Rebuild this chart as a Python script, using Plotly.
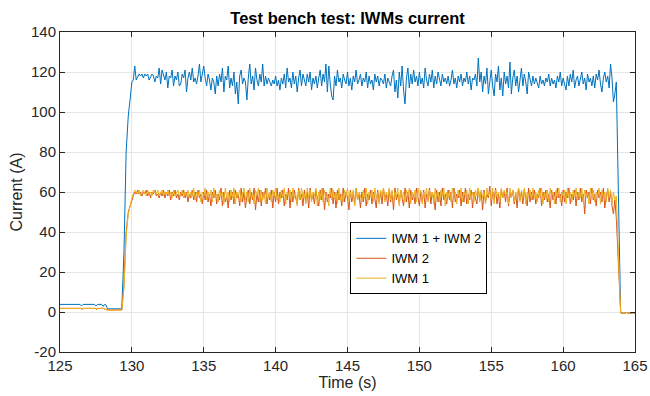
import numpy as np
import plotly.graph_objects as go

# ---------------- data ----------------
# lead-in (before the step) and rise, explicit time/value pairs
blue_head_t = [125.0, 126.4, 126.5, 126.6, 127.4, 127.5, 127.6, 127.9, 128.0, 128.1, 128.2, 128.3, 129.3, 129.45, 129.6, 129.75, 129.9]
blue_head_v = [3.8, 3.8, 3.0, 3.8, 3.8, 3.0, 3.8, 3.8, 2.8, 3.8, 3.5, 1.6, 1.6, 30, 80, 98, 108]

or_head_t = [125.0, 126.5, 126.55, 126.6, 127.5, 127.55, 127.6, 128.0, 128.3, 129.3, 129.45, 129.6, 129.75, 129.9]
iwm2_head_v = [1.8, 1.8, 1.2, 1.8, 1.8, 1.2, 1.8, 1.8, 1.0, 1.0, 14, 40, 50, 54]
iwm1_head_v = [1.8, 1.8, 1.3, 1.8, 1.8, 1.3, 1.8, 1.8, 1.0, 1.0, 12, 38, 49, 55]

# steady part: samples every 0.1 s starting at 130.0 s
steady_t0 = 130.0
steady_dt = 0.1

blue_steady = [
    115, 116, 123, 116, 118, 119, 118, 119, 117, 119,
    118, 119, 116, 118, 119, 118, 115, 118, 117, 122,
    114, 121, 118, 116, 120, 112, 118, 117, 121, 113,
    118, 116, 120, 113, 114, 119, 117, 121, 110, 117,
    120, 116, 122, 115, 117, 114, 118, 124, 115, 119,
    123, 117, 113, 119, 116, 111, 117, 115, 109, 118,
    113, 119, 115, 122, 110, 118, 116, 123, 112, 117,
    113, 120, 109, 115, 104, 118, 121, 114, 117, 115,
    106, 117, 124, 114, 118, 111, 122, 116, 113, 119,
    115, 124, 113, 118, 114, 117, 115, 113, 116, 114,
    118, 113, 116, 111, 117, 114, 119, 112, 122, 115,
    117, 112, 120, 114, 118, 110, 117, 121, 113, 119,
    116, 113, 119, 115, 120, 111, 117, 114, 118, 112,
    117, 121, 113, 119, 115, 124, 110, 123, 114, 108,
    106, 118, 113, 121, 115, 117, 112, 119, 116, 114,
    120, 113, 117, 111, 118, 115, 121, 114, 116, 119,
    113, 117, 115, 120, 112, 118, 114, 116, 111, 119,
    115, 118, 113, 117, 116, 114, 119, 112, 117, 115,
    113, 118, 121, 110, 116, 107, 120, 113, 123, 111,
    104, 117, 122, 112, 119, 114, 121, 115, 118, 113,
    120, 114, 117, 112, 122, 116, 113, 119, 115, 121,
    112, 118, 114, 120, 116, 113, 119, 115, 117, 114,
    118, 113, 116, 121, 114, 117, 112, 118, 115, 119,
    113, 117, 115, 120, 114, 118, 111, 117, 116, 119,
    113, 127, 115, 120, 110, 118, 114, 122, 109, 117,
    121, 113, 108, 119, 115, 123, 111, 117, 108, 120,
    114, 118, 112, 125, 109, 117, 121, 113, 118, 110,
    116, 122, 113, 119, 115, 109, 120, 116, 113, 118,
    114, 117, 115, 112, 118, 114, 116, 113, 117, 115,
    119, 113, 117, 114, 116, 112, 118, 115, 120, 113,
    117, 114, 111, 118, 113, 119, 115, 121, 112, 116,
    118, 113, 116, 120, 114, 117, 111, 119, 115, 117,
    113, 118, 112, 119, 116, 121, 114, 110, 117, 120,
    115, 118, 112, 124, 117, 105, 109, 115,
]

iwm2_steady = [
    56, 58, 60, 59, 61, 59, 60, 58, 60, 59,
    61, 58, 60, 57, 60, 59, 61, 58, 59, 57,
    60, 58, 61, 57, 60, 58, 61, 56, 60, 58,
    61, 57, 59, 56, 60, 58, 61, 57, 60, 55,
    59, 57, 61, 56, 60, 55, 61, 57, 59, 54,
    60, 56, 61, 55, 59, 53, 60, 57, 61, 54,
    59, 56, 62, 53, 60, 55, 58, 52, 61, 56,
    60, 54, 61, 57, 59, 53, 62, 55, 60, 52,
    58, 61, 54, 60, 56, 62, 51, 59, 55, 61,
    53, 60, 57, 62, 54, 59, 56, 61, 52, 60,
    55, 62, 54, 60, 57, 61, 53, 59, 56, 62,
    52, 60, 55, 61, 57, 54, 62, 56, 59, 53,
    61, 55, 60, 52, 62, 56, 59, 54, 61, 57,
    53, 61, 56, 62, 51, 60, 55, 59, 57, 62,
    54, 60, 52, 61, 56, 59, 53, 62, 55, 60,
    57, 51, 61, 55, 60, 54, 62, 56, 59, 52,
    60, 55, 62, 53, 59, 56, 61, 54, 60, 57,
    52, 61, 55, 60, 54, 62, 56, 59, 53, 61,
    55, 60, 51, 62, 56, 59, 54, 61, 57, 53,
    62, 55, 60, 52, 61, 56, 59, 54, 62, 57,
    53, 60, 55, 61, 52, 59, 56, 62, 54, 60,
    57, 51, 61, 55, 60, 53, 62, 56, 59, 54,
    61, 56, 60, 52, 62, 55, 59, 57, 61, 53,
    60, 55, 62, 54, 59, 56, 61, 52, 60, 57,
    54, 62, 56, 60, 51, 61, 55, 59, 57, 63,
    53, 60, 56, 62, 54, 59, 52, 61, 57, 60,
    55, 62, 53, 60, 57, 61, 54, 59, 52, 62,
    56, 60, 54, 61, 57, 53, 62, 55, 60, 56,
    61, 54, 59, 57, 62, 53, 60, 56, 61, 55,
    59, 52, 61, 56, 60, 54, 62, 57, 59, 53,
    61, 55, 60, 57, 62, 54, 59, 56, 61, 53,
    60, 56, 62, 55, 59, 49, 61, 57, 60, 54,
    62, 56, 59, 53, 61, 57, 60, 55, 62, 52,
    58, 61, 55, 60, 53, 49, 56, 47,
]

iwm1_steady = [
    57, 59, 61, 60, 59, 61, 58, 60, 61, 59,
    58, 61, 59, 60, 58, 61, 60, 59, 61, 58,
    60, 61, 58, 60, 59, 61, 58, 60, 57, 61,
    58, 60, 61, 58, 59, 61, 57, 60, 58, 61,
    57, 60, 58, 62, 56, 60, 58, 61, 55, 60,
    58, 62, 56, 60, 57, 61, 55, 62, 57, 59,
    55, 61, 58, 60, 54, 62, 57, 60, 55, 61,
    57, 62, 54, 60, 58, 61, 55, 59, 62, 56,
    60, 55, 62, 57, 59, 54, 61, 58, 62, 55,
    61, 56, 59, 54, 62, 57, 60, 55, 61, 58,
    62, 56, 59, 55, 61, 57, 62, 54, 60, 58,
    61, 55, 62, 57, 59, 53, 61, 56, 62, 57,
    59, 54, 62, 57, 61, 55, 60, 58, 62, 53,
    60, 56, 62, 55, 61, 57, 59, 53, 62, 56,
    61, 57, 60, 54, 62, 56, 59, 55, 61, 58,
    62, 55, 60, 57, 61, 53, 62, 56, 60, 58,
    55, 61, 57, 62, 54, 60, 58, 61, 55, 62,
    57, 60, 54, 61, 58, 62, 55, 60, 57, 62,
    56, 61, 55, 60, 58, 62, 53, 61, 57, 60,
    55, 61, 58, 62, 54, 60, 57, 61, 55, 62,
    58, 61, 54, 60, 57, 62, 55, 61, 58, 60,
    54, 62, 57, 60, 55, 61, 58, 62, 53, 60,
    57, 61, 55, 62, 58, 60, 54, 61, 57, 62,
    55, 60, 58, 61, 54, 62, 57, 60, 55, 61,
    58, 62, 55, 61, 57, 60, 54, 62, 58, 60,
    56, 62, 54, 61, 58, 60, 55, 62, 57, 61,
    58, 60, 54, 62, 57, 61, 55, 60, 58, 62,
    55, 61, 57, 62, 54, 60, 58, 61, 56, 62,
    57, 60, 55, 61, 58, 62, 54, 60, 57, 61,
    55, 62, 58, 60, 54, 61, 57, 62, 55, 60,
    58, 61, 54, 62, 57, 60, 55, 61, 58, 62,
    56, 60, 57, 62, 55, 61, 58, 60, 54, 62,
    57, 61, 55, 60, 58, 62, 54, 61, 57, 60,
    55, 62, 57, 61, 54, 60, 56, 58,
]

# fall and trailing part
tail_t = [164.0, 164.2, 164.4, 164.6, 164.8, 165.0]
blue_tail_v = [-0.3, -0.6, -0.2, -0.7, -0.4, -0.5]
iwm2_tail_v = [-0.4, -0.7, -0.3, -0.6, -0.4, -0.6]
iwm1_tail_v = [-0.5, -0.6, -0.3, -0.7, -0.3, -0.5]

series_names = ["IWM 1 + IWM 2", "IWM 2", "IWM 1"]
series_colors = ["#0072BD", "#D95319", "#EDB120"]

x_ticks = [125, 130, 135, 140, 145, 150, 155, 160, 165]
y_ticks = [-20, 0, 20, 40, 60, 80, 100, 120, 140]


def build(head_t, head_v, steady, tail_v):
    st = [steady_t0 + steady_dt * i for i in range(len(steady))]
    return list(head_t) + st + list(tail_t), list(head_v) + list(steady) + list(tail_v)


bx, by = build(blue_head_t, blue_head_v, blue_steady, blue_tail_v)
o2x, o2y = build(or_head_t, iwm2_head_v, iwm2_steady, iwm2_tail_v)
o1x, o1y = build(or_head_t, iwm1_head_v, iwm1_steady, iwm1_tail_v)

fig = go.Figure()
for (xs, ys), name, col in zip([(bx, by), (o2x, o2y), (o1x, o1y)], series_names, series_colors):
    fig.add_trace(go.Scatter(x=xs, y=ys, mode="lines", name=name,
                             line=dict(color=col, width=1)))

FONT = "Liberation Sans, Arial, Helvetica, sans-serif"
AX = "#262626"
GRID = "#e6e6e6"

axis_common = dict(
    showline=True, linecolor=AX, linewidth=1, mirror="ticks",
    ticks="inside", ticklen=5, tickwidth=1, tickcolor=AX,
    showgrid=True, gridcolor=GRID, gridwidth=1, zeroline=False,
    tickfont=dict(family=FONT, size=15, color=AX),
    automargin=False,
)

fig.update_layout(
    width=650, height=396,
    margin=dict(l=60, r=15, t=32, b=44),
    paper_bgcolor="white", plot_bgcolor="white",
    font=dict(family=FONT, color=AX),
    title=dict(text="<b>Test bench test: IWMs current</b>", x=0.5347, xanchor="center",
               y=1 - 18 / 396, yanchor="middle", yref="container",
               font=dict(family=FONT, size=16.5, color="black")),
    xaxis=dict(range=[125, 165], tickvals=x_ticks, ticktext=[str(v) for v in x_ticks],
               title=dict(text="Time (s)", font=dict(family=FONT, size=16, color=AX), standoff=2),
               **axis_common),
    yaxis=dict(range=[-20, 140], tickvals=y_ticks, ticktext=[str(v) for v in y_ticks],
               title=dict(text="Current (A)", font=dict(family=FONT, size=16, color=AX), standoff=4),
               **axis_common),
    legend=dict(x=0.505, y=0.405, xanchor="left", yanchor="top",
                bgcolor="white", bordercolor="black", borderwidth=1,
                font=dict(family=FONT, size=13, color="black"),
                itemwidth=30, tracegroupgap=0),
    showlegend=True,
)

fig.write_html("out.html")
